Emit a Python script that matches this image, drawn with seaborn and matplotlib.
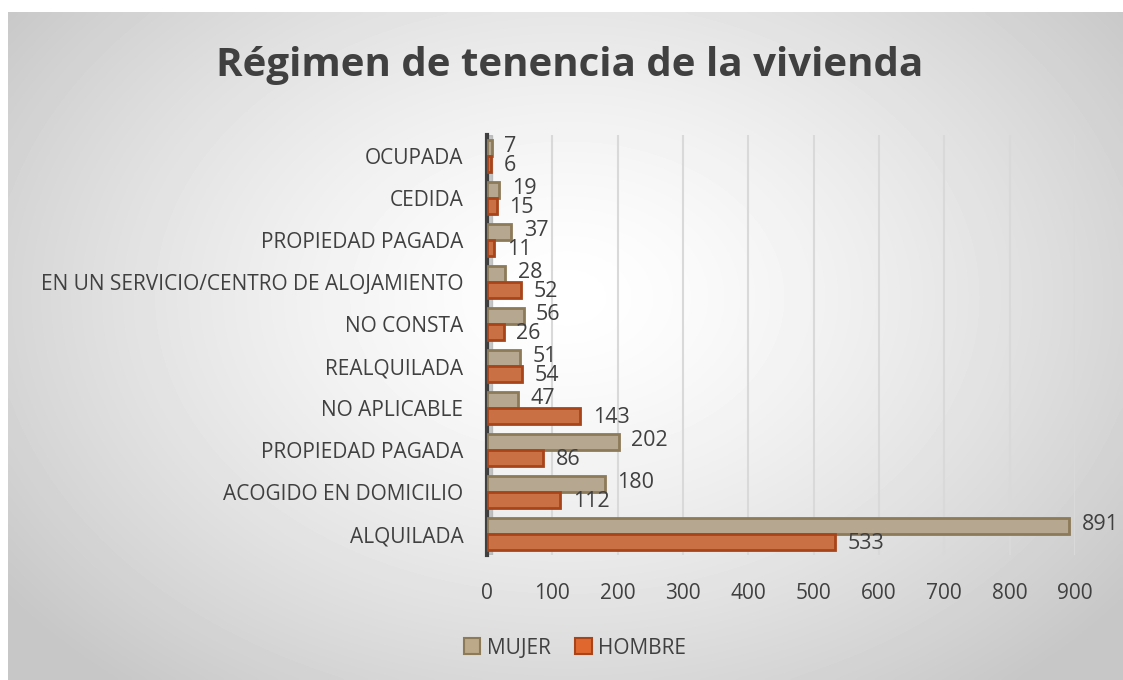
import numpy as np
import pandas as pd
import matplotlib.pyplot as plt
import seaborn as sns
from matplotlib.patches import Patch

# Data (top to bottom as shown)
categories = ['OCUPADA', 'CEDIDA', 'PROPIEDAD PAGADA', 'EN UN SERVICIO/CENTRO DE ALOJAMIENTO',
              'NO CONSTA', 'REALQUILADA', 'NO APLICABLE', 'PROPIEDAD PAGADA',
              'ACOGIDO EN DOMICILIO', 'ALQUILADA']
mujer = [7, 19, 37, 28, 56, 51, 47, 202, 180, 891]
hombre = [6, 15, 11, 52, 26, 54, 143, 86, 112, 533]
series = ['MUJER', 'HOMBRE']
colors = {'MUJER': '#bba98a', 'HOMBRE': '#e0682f'}
edges = {'MUJER': '#8c7a58', 'HOMBRE': '#a8441a'}

rows = list(range(len(categories)))
df = pd.DataFrame({
    'row': rows * 2,
    'Valor': mujer + hombre,
    'Sexo': ['MUJER'] * len(rows) + ['HOMBRE'] * len(rows),
})

sns.set_style('white')
plt.rcParams['font.family'] = ['Open Sans', 'DejaVu Sans']

fig = plt.figure(figsize=(11.23, 6.8), dpi=100)

# gradient background
bg = fig.add_axes([8 / 1123, 0, 1 - 8 / 1123, 668 / 680], zorder=-10)
yy, xx = np.mgrid[0:200, 0:300]
r = np.sqrt(((xx - 150) / 150) ** 2 + ((yy - 85) / 120) ** 2)
shade = 1.0 - 0.22 * np.clip(r / 1.25, 0, 1) ** 1.4
bg.imshow(shade, cmap='gray', vmin=0, vmax=1, aspect='auto', interpolation='bicubic')
bg.axis('off')

ax = fig.add_axes([487 / 1123, 125 / 680, 588 / 1123, 420 / 680])
ax.patch.set_alpha(0)
sns.barplot(data=df, x='Valor', y='row', hue='Sexo', hue_order=series, orient='h',
            palette=colors, width=0.74, ax=ax, legend=False, zorder=3)

for cont, s in zip(ax.containers, series):
    dy = 1.5 if s == 'MUJER' else -1.5
    for p in cont:
        p.set_edgecolor(edges[s])
        p.set_linewidth(2)
        w = p.get_width()
        yc = p.get_y() + p.get_height() / 2
        ax.annotate(f'{w:.0f}', xy=(w, yc), xytext=(9, dy), textcoords='offset points',
                    ha='left', va='center', fontsize=15.5, color='#404040', zorder=5)

ax.set_xlim(0, 900)
ax.set_ylim(9.5, -0.5)
ax.set_xticks(range(0, 901, 100))
ax.set_yticks(rows)
ax.set_yticklabels(categories)
ax.tick_params(axis='x', length=0, pad=20, labelsize=15, labelcolor='#404040')
ax.tick_params(axis='y', length=0, pad=17, labelsize=15, labelcolor='#404040')
ax.set_xlabel('')
ax.set_ylabel('')
ax.xaxis.grid(True, color='#d9d9d9', linewidth=1.5, zorder=0)
for sp in ['top', 'right', 'bottom']:
    ax.spines[sp].set_visible(False)
ax.spines['left'].set_color('#404040')
ax.spines['left'].set_linewidth(3)
ax.axvspan(0, 8, color='#a6a6a6', alpha=0.6, zorder=1)

fig.text(0.507, 0.904, 'Régimen de tenencia de la vivienda', ha='center', va='center',
         fontsize=29, fontweight='bold', color='#404040')

handles = [Patch(facecolor=colors[s], edgecolor=edges[s], linewidth=1.5, label=s) for s in series]
fig.legend(handles=handles, loc='center', bbox_to_anchor=(575 / 1123, 1 - 648 / 680), ncol=2,
           frameon=False, fontsize=15, handlelength=0.8, handleheight=0.8,
           handletextpad=0.3, columnspacing=1.2, labelcolor='#404040')

fig.savefig('out.png', dpi=100)
